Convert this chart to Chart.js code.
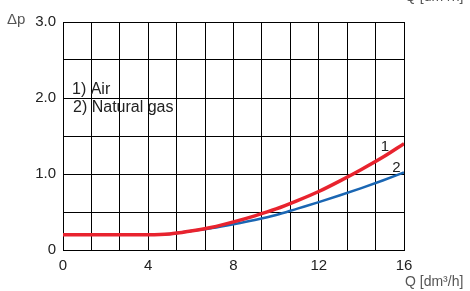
<!DOCTYPE html>
<html>
<head>
<meta charset="utf-8">
<script src="https://cdn.jsdelivr.net/npm/chart.js@4/dist/chart.umd.min.js"></script>
<style>
  html, body { margin: 0; padding: 0; background: #fff; }
  #wrap { width: 470px; height: 291px; }
</style>
</head>
<body>
<div id="wrap"><canvas id="chart" width="470" height="291"></canvas></div>
<script>
  /* ── data ── */
  const flowQ      = [0, 1, 2, 3, 4, 5, 6, 7, 8, 9, 10, 11, 12, 13, 14, 15, 16];
  const airDp      = [0.2, 0.2, 0.2, 0.2, 0.2, 0.21, 0.25, 0.3, 0.37, 0.45, 0.54, 0.65, 0.77, 0.91, 1.06, 1.22, 1.4];
  const gasDp      = [0.2, 0.2, 0.2, 0.2, 0.2, 0.21, 0.25, 0.29, 0.34, 0.395, 0.46, 0.545, 0.63, 0.72, 0.815, 0.915, 1.02];
  const xTickLabels = [0, 4, 8, 12, 16];
  const xGridCells  = 12;
  const yTickLabels = [0, 1, 2, 3];

  const RED  = "#e8232e";
  const BLUE = "#1a66b3";
  const FONT = "'Liberation Sans', Arial, sans-serif";

  const toPoints = (ys) => flowQ.map((q, i) => ({ x: q, y: ys[i] }));

  /* ── annotation texts ── */
  const textPlugin = {
    id: "texts",
    afterDraw(chart) {
      const { ctx, scales: { x, y } } = chart;
      ctx.save();
      ctx.textBaseline = "alphabetic";

      ctx.fillStyle = "#555";
      ctx.font = "15px " + FONT;
      ctx.textAlign = "left";
      ctx.fillText("\u0394p", 7, 24);
      ctx.font = "14px " + FONT;
      ctx.fillText("Q [dm\u00b3/h]", 405, 286);
      ctx.fillText("Q [dm\u00b3/h]", 405, 1);

      ctx.fillStyle = "#222";
      ctx.font = "16px " + FONT;
      ctx.fillText("1) Air", 72, 94);
      ctx.fillText("2) Natural gas", 73, 112);

      ctx.font = "15px " + FONT;
      ctx.textAlign = "center";
      ctx.fillText("1", x.getPixelForValue(15.1), y.getPixelForValue(1.3));
      ctx.fillText("2", x.getPixelForValue(15.65), y.getPixelForValue(1.03));
      ctx.restore();
    },
  };

  new Chart(document.getElementById("chart"), {
    type: "line",
    data: {
      datasets: [
        {
          label: "2) Natural gas",
          data: toPoints(gasDp),
          borderColor: BLUE,
          borderWidth: 2.5,
          pointRadius: 0,
          cubicInterpolationMode: "monotone",
          order: 2,
        },
        {
          label: "1) Air",
          data: toPoints(airDp),
          borderColor: RED,
          borderWidth: 3.5,
          pointRadius: 0,
          cubicInterpolationMode: "monotone",
          order: 1,
        },
      ],
    },
    options: {
      responsive: false,
      animation: false,
      layout: { padding: { left: 0, top: 22, right: 66, bottom: 0 } },
      plugins: {
        legend: { display: false },
        tooltip: { enabled: false },
      },
      scales: {
        x: {
          type: "linear",
          min: 0,
          max: 16,
          afterBuildTicks: (s) => {
            const step = (xTickLabels[xTickLabels.length - 1] - xTickLabels[0]) / xGridCells;
            s.ticks = Array.from({ length: xGridCells + 1 }, (_, i) => ({ value: i * step }));
          },
          afterFit: (s) => { s.height = 41; },
          grid: { color: "#000", lineWidth: 1, drawTicks: false },
          border: { display: true, color: "#000", width: 1 },
          ticks: {
            autoSkip: false,
            maxRotation: 0,
            padding: 7,
            color: "#222",
            font: { family: FONT, size: 15 },
            callback: (v) => {
              const hit = xTickLabels.find((t) => Math.abs(t - v) < 1e-6);
              return hit !== undefined ? String(hit) : "";
            },
          },
        },
        y: {
          type: "linear",
          min: 0,
          max: 3,
          afterFit: (s) => { s.width = 63; },
          grid: { color: "#000", lineWidth: 1, drawTicks: false },
          border: { display: true, color: "#000", width: 1 },
          ticks: {
            stepSize: 0.5,
            autoSkip: false,
            padding: 7,
            color: "#222",
            font: { family: FONT, size: 15 },
            callback: (v) => {
              if (!yTickLabels.includes(v)) return "";
              return v === 0 ? "0" : v.toFixed(1);
            },
          },
        },
      },
    },
    plugins: [textPlugin],
  });
</script>
</body>
</html>
